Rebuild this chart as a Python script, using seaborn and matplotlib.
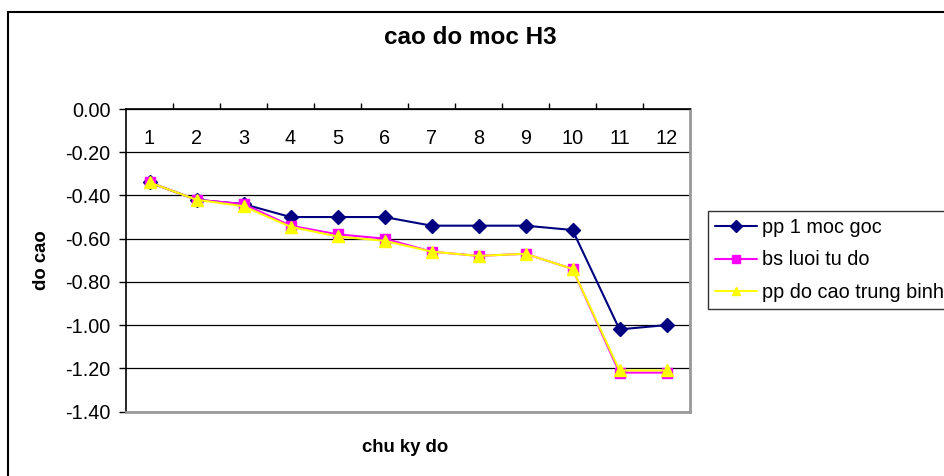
import matplotlib
matplotlib.use("Agg")
import matplotlib.pyplot as plt
import matplotlib.patches as mpatches
import seaborn as sns
import pandas as pd

# ---------------------------------------------------------------------------
# data
cycles = [1, 2, 3, 4, 5, 6, 7, 8, 9, 10, 11, 12]
cycle_labels = [str(c) for c in cycles]

pp_1_moc_goc = [-0.34, -0.42, -0.44, -0.50, -0.50, -0.50, -0.54, -0.54, -0.54, -0.56, -1.02, -1.00]
bs_luoi_tu_do = [-0.34, -0.42, -0.44, -0.54, -0.58, -0.60, -0.66, -0.68, -0.67, -0.74, -1.22, -1.22]
pp_do_cao_tb = [-0.34, -0.42, -0.45, -0.545, -0.59, -0.61, -0.66, -0.68, -0.67, -0.74, -1.21, -1.21]

series_names = ["pp 1 moc goc", "bs luoi tu do", "pp do cao trung binh"]
y_ticks = [0.00, -0.20, -0.40, -0.60, -0.80, -1.00, -1.20, -1.40]

# ---------------------------------------------------------------------------
sns.set_theme(style="white")
plt.rcParams['font.family'] = ['Liberation Sans', 'DejaVu Sans']
plt.rcParams['text.color'] = 'black'
plt.rcParams['xtick.color'] = 'black'
plt.rcParams['ytick.color'] = 'black'
plt.rcParams['axes.labelcolor'] = 'black'

fs = 14.3

fig = plt.figure(figsize=(9.44, 4.76), dpi=100)
ax = fig.add_axes([126 / 944, 1 - 411.5 / 476, (690 - 126) / 944, (411.5 - 109) / 476])

styles = [
    dict(color="#000080", marker="D", markersize=7, markeredgecolor="#000080"),
    dict(color="#FF00FF", marker="s", markersize=7, markeredgecolor="#FF00FF"),
    dict(color="#FFFF00", marker="^", markersize=9, markeredgecolor="#FFFF00"),
]
for name, vals, st in zip(series_names, [pp_1_moc_goc, bs_luoi_tu_do, pp_do_cao_tb], styles):
    df = pd.DataFrame({"chu ky": cycles, "do cao": vals})
    sns.lineplot(data=df, x="chu ky", y="do cao", ax=ax, label=name,
                 linewidth=1.5, markeredgewidth=1, **st)

# y axis
ax.set_ylim(-1.40, 0.00)
ax.set_yticks(y_ticks)
ax.set_yticklabels([f"{t:.2f}" for t in y_ticks], fontsize=fs)
ax.yaxis.grid(True, color="black", linewidth=0.9)
ax.tick_params(axis="y", direction="out", length=5, width=1, color="black",
               labelcolor="black", left=True, pad=6)

# x axis: category boundaries ticked on top, labels inside under the top line
ax.set_xlim(0.5, 12.5)
ax.set_xticks([c + 0.5 for c in cycles[:-1]])
ax.set_xticklabels([])
ax.set_xticks(cycles, minor=True)
ax.set_xticklabels(cycle_labels, minor=True, fontsize=fs)
ax.tick_params(axis="x", which="major", top=True, bottom=False, direction="out",
               length=4, width=1, color="black", labeltop=False, labelbottom=False)
ax.tick_params(axis="x", which="minor", top=True, bottom=False, length=0,
               labeltop=True, labelbottom=False, labelcolor="black", pad=-28)
ax.xaxis.grid(False)

for side in ["top", "left"]:
    ax.spines[side].set_color("black")
    ax.spines[side].set_linewidth(1.2)
for side in ["bottom", "right"]:
    ax.spines[side].set_color("#999999")
    ax.spines[side].set_linewidth(2)

ax.set_xlabel("")
ax.set_ylabel("")

fig.text(470 / 944, 1 - 38 / 476, "cao do moc H3", ha="center", va="center",
         fontsize=17.5, fontweight="bold", color="black")
fig.text(405 / 944, 1 - 447 / 476, "chu ky do", ha="center", va="center",
         fontsize=13.3, fontweight="bold", color="black")
fig.text(42 / 944, 1 - 260 / 476, "do cao", ha="center", va="center",
         fontsize=13.3, fontweight="bold", rotation=90, color="black")

leg = ax.legend(loc="upper left", bbox_to_anchor=(708 / 944, 1 - 211 / 476),
                bbox_transform=fig.transFigure, borderaxespad=0, fontsize=fs,
                frameon=True, fancybox=False, shadow=False, handlelength=2.1,
                handletextpad=0.25, labelspacing=0.68, borderpad=0.35)
leg.get_frame().set_edgecolor("black")
leg.get_frame().set_linewidth(1)
for t in leg.get_texts():
    t.set_color("black")
for h in leg.legend_handles:
    h.set_markersize(6)

# outer chart border (right and bottom fall outside the picture)
fig.patches.append(mpatches.Rectangle((8 / 944, -0.1), 2, 1 - 12 / 476 + 0.1,
                                      transform=fig.transFigure, fill=False,
                                      edgecolor="black", linewidth=1.5))

fig.savefig("out.png", dpi=100)
